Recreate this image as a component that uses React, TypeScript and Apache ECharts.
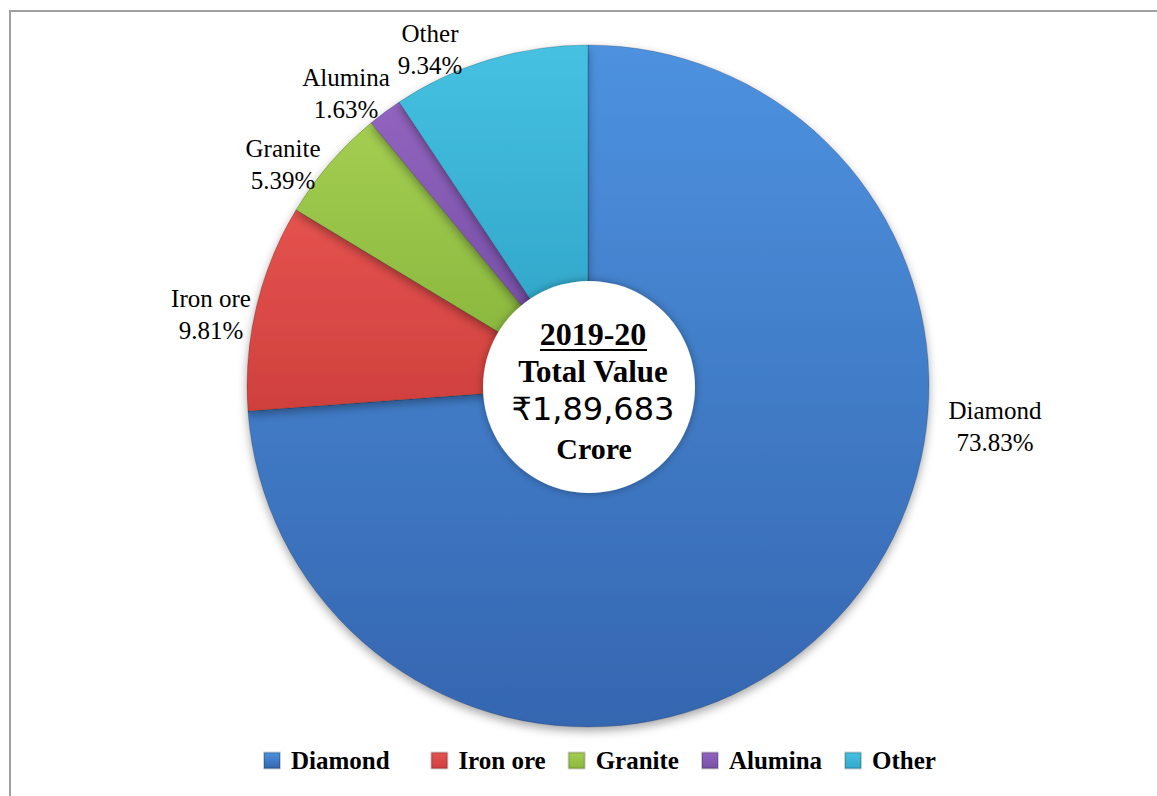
import React, { useEffect, useRef } from "react";
import * as echarts from "echarts";

const categories = ["Diamond", "Iron ore", "Granite", "Alumina", "Other"];
const shares = [73.83, 9.81, 5.39, 1.63, 9.34];
const centerLines = ["2019-20", "Total Value", "₹1,89,683", "Crore"];

const topColors = ["#4D92DF", "#E5534F", "#A3CE52", "#9264BF", "#46C1E1"];
const bottomColors = ["#3566B0", "#CF403D", "#8BB83E", "#7850A8", "#32A8CB"];
// label block centres (layout only)
const labelPos = [
  [995, 426],
  [211, 314],
  [283, 164],
  [346, 93],
  [430, 49],
];

const SERIF = '"Liberation Serif", "Times New Roman", serif';

export default function App() {
  const ref = useRef<HTMLDivElement>(null);
  useEffect(() => {
    if (!ref.current) return;
    const chart = echarts.init(ref.current, null, { renderer: "svg" });
    const cx = 588;
    const cy = 386;
    const tx = 593;
    const option: any = {
      animation: false,
      backgroundColor: "#ffffff",
      legend: {
        bottom: 18,
        left: 258,
        orient: "horizontal",
        icon: "rect",
        itemWidth: 16,
        itemHeight: 16,
        itemGap: 22,
        data: categories,
        formatter: (n: string) => (n === "Diamond" ? n + "   " : n),
        textStyle: {
          fontFamily: SERIF,
          fontWeight: "bold",
          fontSize: 25,
          color: "#000",
          padding: [0, 0, 0, 6],
        },
      },
      graphic: [
        {
          type: "line",
          shape: { x1: 9, y1: 11, x2: 1157, y2: 11 },
          style: { stroke: "#a0a0a0", lineWidth: 2 },
        },
        {
          type: "line",
          shape: { x1: 10, y1: 11, x2: 10, y2: 796 },
          style: { stroke: "#a0a0a0", lineWidth: 2 },
        },
        {
          type: "circle",
          shape: { cx: 589, cy: 387, r: 106 },
          style: {
            fill: "#ffffff",
            shadowBlur: 8,
            shadowColor: "rgba(0,0,0,0.35)",
          },
          z: 10,
        },
        {
          type: "text",
          z: 11,
          style: {
            text: centerLines[0],
            x: tx,
            y: 334,
            textAlign: "center",
            textVerticalAlign: "middle",
            font: `bold 32px ${SERIF}`,
            fill: "#000",
          },
        },
        {
          type: "line",
          z: 11,
          shape: { x1: 540, y1: 350, x2: 647, y2: 350 },
          style: { stroke: "#000", lineWidth: 2 },
        },
        {
          type: "text",
          z: 11,
          style: {
            text: centerLines[1],
            x: tx,
            y: 371,
            textAlign: "center",
            textVerticalAlign: "middle",
            font: `bold 31px ${SERIF}`,
            fill: "#000",
          },
        },
        {
          type: "text",
          z: 11,
          style: {
            text: centerLines[2],
            x: tx,
            y: 409,
            textAlign: "center",
            textVerticalAlign: "middle",
            font: `32px "DejaVu Sans", "Noto Sans", sans-serif`,
            fill: "#000",
          },
        },
        {
          type: "text",
          z: 11,
          style: {
            text: centerLines[3],
            x: tx + 1,
            y: 448,
            textAlign: "center",
            textVerticalAlign: "middle",
            font: `bold 30px ${SERIF}`,
            fill: "#000",
          },
        },
      ],
      series: [
        {
          type: "pie",
          center: [cx, cy],
          radius: [100, 341],
          startAngle: 90,
          clockwise: true,
          avoidLabelOverlap: false,
          label: {
            show: true,
            position: "outside",
            formatter: "{b}\n{c}%",
            fontFamily: SERIF,
            fontSize: 25,
            lineHeight: 32,
            color: "#000",
            align: "center",
          },
          labelLine: { show: false },
          labelLayout: (p: any) => {
            const pos = labelPos[p.dataIndex];
            return {
              x: pos[0],
              y: pos[1],
              align: "center",
              verticalAlign: "middle",
            };
          },
          emphasis: { disabled: true },
          itemStyle: {
            borderColor: "rgba(0,0,0,0.18)",
            borderWidth: 1,
            shadowBlur: 10,
            shadowOffsetY: 4,
            shadowColor: "rgba(0,0,0,0.35)",
          },
          data: categories.map((name, i) => ({
            name,
            value: shares[i],
            itemStyle: {
              color: new echarts.graphic.LinearGradient(0, 0, 0, 1, [
                { offset: 0, color: topColors[i] },
                { offset: 1, color: bottomColors[i] },
              ]),
            },
          })),
        },
      ],
    };
    chart.setOption(option);
    return () => chart.dispose();
  }, []);
  return (
    <div
      ref={ref}
      style={{ position: "absolute", left: 0, top: 0, width: 1157, height: 796 }}
    />
  );
}
